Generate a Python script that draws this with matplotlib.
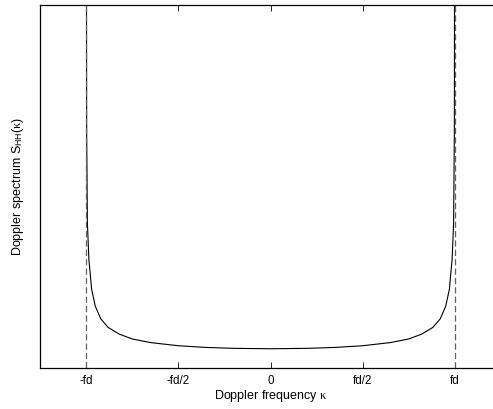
"""Doppler spectrum (Jakes) plot"""
import matplotlib
matplotlib.use("Agg")
import matplotlib.pyplot as plt

# values (fd normalised to 1)
freq = [-0.9995, -0.997, -0.993, -0.985, -0.97, -0.95, -0.92, -0.88, -0.82,
        -0.75, -0.65, -0.5, -0.35, -0.2, 0.0,
        0.2, 0.35, 0.5, 0.65, 0.75, 0.82, 0.88, 0.92, 0.95, 0.97, 0.985,
        0.993, 0.997, 0.9995]
spectrum = [10.0, 3.9, 2.4, 1.8, 1.3, 1.02, 0.81, 0.67, 0.56,
            0.48, 0.42, 0.368, 0.34, 0.325, 0.318,
            0.325, 0.34, 0.368, 0.42, 0.48, 0.56, 0.67, 0.81, 1.02, 1.3, 1.8,
            2.4, 3.9, 10.0]
edge_freqs = [-1.0, 1.0]

tick_pos = [-1.0, -0.5, 0.0, 0.5, 1.0]
tick_labels = ['-fd', '-fd/2', '0', 'fd/2', 'fd']

plt.rcParams['font.family'] = ['Liberation Sans', 'DejaVu Sans']
plt.rcParams['mathtext.fontset'] = 'custom'
plt.rcParams['mathtext.rm'] = 'Liberation Serif'
plt.rcParams['mathtext.sf'] = 'Liberation Sans'
plt.rcParams['mathtext.it'] = 'Liberation Serif:italic'

fig = plt.figure(figsize=(4.93, 4.09), dpi=100)
ax = fig.add_axes([40 / 493, 41 / 409, 461 / 493, 363 / 409])

ax.plot(freq, spectrum, color='black', linewidth=0.8)
for f in edge_freqs:
    ax.axvline(f, color='#606060', linestyle='--', linewidth=0.9, dashes=(5, 2.5))

ax.set_xlim(-1.25, 1.25)
ax.set_ylim(0, 6)

ax.set_xticks(tick_pos)
ax.set_xticklabels(tick_labels, fontsize=8.3)
ax.set_yticks([])
ax.tick_params(axis='x', direction='in', top=True, length=4, width=0.6, pad=5)

for sp in ax.spines.values():
    sp.set_linewidth(0.9)

ax.set_xlabel(r"Doppler frequency $\mathrm{\kappa}$", fontsize=9, labelpad=1)
ax.set_ylabel(r"Doppler spectrum S$_{\mathsf{HH}}$($\mathrm{\kappa}$)", fontsize=9, labelpad=10)

fig.savefig("out.png", dpi=100)
